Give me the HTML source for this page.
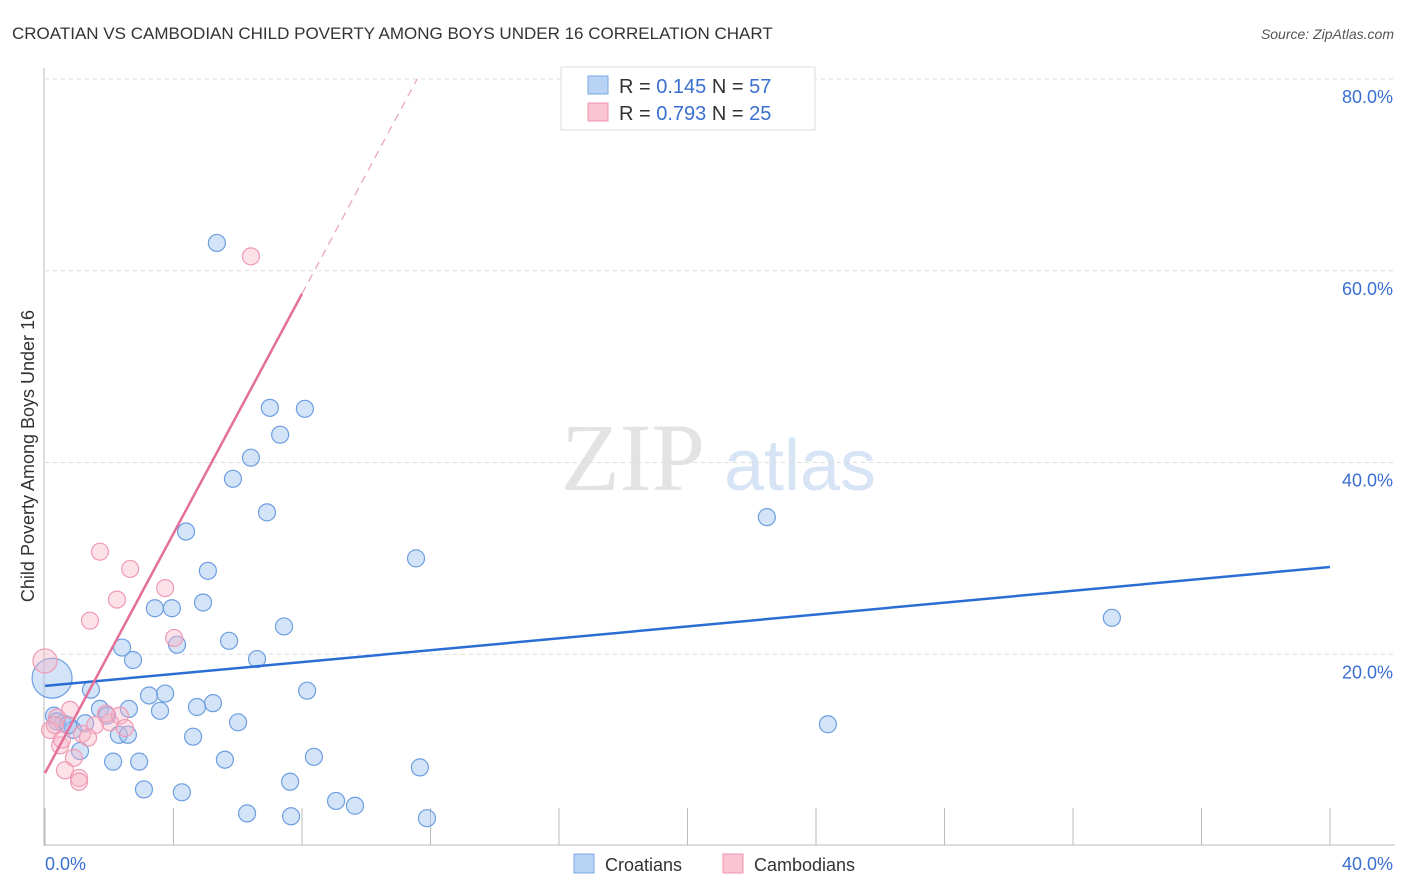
<!DOCTYPE html>
<html><head><meta charset="utf-8"><style>
body{margin:0;background:#fff;font-family:"Liberation Sans",sans-serif;}
svg{display:block}
</style></head><body>
<svg id="chart" width="1406" height="892">
<text x="12" y="39" font-size="17" fill="#333">CROATIAN VS CAMBODIAN CHILD POVERTY AMONG BOYS UNDER 16 CORRELATION CHART</text>
<text x="1394" y="39" font-size="14" fill="#555" font-style="italic" text-anchor="end">Source: ZipAtlas.com</text>
<g>
<text x="633" y="490" font-size="96" fill="#e3e3e3" font-family="Liberation Serif,serif" text-anchor="middle">ZIP</text>
<text x="800" y="490" font-size="72" fill="#d6e4f5" text-anchor="middle">atlas</text>
</g>
<g id="grid"></g>
<g id="axes"></g>
<g id="marks"></g>
<text transform="translate(34,456) rotate(-90)" font-size="18" fill="#333" text-anchor="middle">Child Poverty Among Boys Under 16</text>
<g>
<rect x="561" y="67" width="254" height="63" fill="#fff" stroke="#ddd"/>
<rect x="588" y="76" width="20" height="18" fill="#b8d3f4" stroke="#7aa7e0"/>
<rect x="588" y="103" width="20" height="18" fill="#fac4d3" stroke="#ee93ad"/>
<text x="619" y="93" font-size="20" fill="#333">R = <tspan fill="#3a6fd1">0.145</tspan>   N = <tspan fill="#3a6fd1">57</tspan></text>
<text x="619" y="120" font-size="20" fill="#333">R = <tspan fill="#3a6fd1">0.793</tspan>   N = <tspan fill="#3a6fd1">25</tspan></text>
</g>
<g>
<rect x="574" y="854" width="20" height="19" fill="#b8d3f4" stroke="#7aa7e0"/>
<text x="605" y="871" font-size="18" fill="#333">Croatians</text>
<rect x="723" y="854" width="20" height="19" fill="#fac4d3" stroke="#ee93ad"/>
<text x="754" y="871" font-size="18" fill="#333">Cambodians</text>
</g>
</svg>
<script>
const xTicks=[0,4,8,12,16,20,24,28,32,36,40];
const yGrid=[20,40,60,80];
const yTickLabels=["20.0%","40.0%","60.0%","80.0%"];
const croX=[5.35,7.00,8.09,7.32,6.41,5.85,6.91,4.39,11.55,22.47,33.21,5.07,4.92,3.42,3.95,5.73,7.44,4.11,2.40,2.74,6.60,1.43,3.24,3.74,8.16,5.23,4.73,3.58,1.71,2.61,1.93,6.01,1.25,24.37,2.30,2.58,4.61,1.09,2.12,2.93,5.60,8.37,11.67,7.63,3.08,4.26,9.06,9.65,6.29,7.66,11.89,0.22,0.28,0.56,0.87,0.37,0.72];
const croY=[62.9,45.7,45.6,42.9,40.5,38.3,34.8,32.8,30.0,34.3,23.8,28.7,25.4,24.8,24.8,21.4,22.9,21.0,20.7,19.4,19.5,16.3,15.7,15.9,16.2,14.9,14.5,14.1,14.3,14.3,13.6,12.9,12.8,12.7,11.6,11.6,11.4,9.9,8.8,8.8,9.0,9.3,8.2,6.7,5.9,5.6,4.7,4.2,3.4,3.1,2.9,17.5,13.6,12.8,12.1,13.0,12.6];
const camX=[6.41,1.71,2.65,3.74,2.24,1.40,4.02,0,0.78,0.37,0.16,0.47,1.15,2.02,2.33,2.49,0.90,0.62,1.06,1.06,1.56,0.53,0.31,1.34,1.90];
const camY=[61.5,30.7,28.9,26.9,25.7,23.5,21.7,19.3,14.2,13.4,12.1,10.5,11.7,12.9,13.6,12.3,9.2,7.9,7.1,6.7,12.6,11.1,12.6,11.3,13.8];
const croTrend=[16.7,29.1];
const camTrend=[7.6,6.25];
const NS="http://www.w3.org/2000/svg";
const X=v=>45+v*32.125, Y=v=>846-v*9.5875;
function mk(tag,attrs,parent){const e=document.createElementNS(NS,tag);for(const k in attrs)e.setAttribute(k,attrs[k]);document.getElementById(parent).appendChild(e);return e;}
yGrid.forEach((g,i)=>{
 const l=mk('line',{x1:45,x2:1395,y1:Y(g),y2:Y(g),stroke:'#ddd','stroke-dasharray':'4,4'},'grid');
 
 
 const t=mk('text',{x:1393,y:Y(g)+24,'font-size':18,fill:'#3a6fd1','text-anchor':'end'},'grid');
 t.textContent=yTickLabels[i];
 
 
});
const ax=mk('line',{x1:44,x2:44,y1:68,y2:846,stroke:'#bbb'},'axes');


const bx=mk('line',{x1:44,x2:1395,y1:845,y2:845,stroke:'#bbb'},'axes');


xTicks.forEach(t=>{
 const l=mk('line',{x1:X(t),x2:X(t),y1:808,y2:845,stroke:'#bbb'},'axes');
 
 
});
const xl0=mk('text',{x:45,y:870,'font-size':18,fill:'#3a6fd1'},'axes');xl0.textContent=xTicks[0].toFixed(1)+'%';


const xl1=mk('text',{x:1393,y:870,'font-size':18,fill:'#3a6fd1','text-anchor':'end'},'axes');xl1.textContent=xTicks[xTicks.length-1].toFixed(1)+'%';


croX.forEach((x,i)=>{
 const c=mk('circle',{cx:X(x),cy:Y(croY[i]),r:i==51?20:8.5,fill:'rgba(160,195,240,0.45)',stroke:'#6d9ee0','stroke-width':1.2},'marks');
 
 
});
camX.forEach((x,i)=>{
 const c=mk('circle',{cx:X(x),cy:Y(camY[i]),r:i==7?12:8.5,fill:'rgba(248,180,200,0.4)',stroke:'#ef9ab3','stroke-width':1.2},'marks');
 
 
});
const bl=mk('line',{x1:X(0),y1:Y(croTrend[0]),x2:X(40),y2:Y(croTrend[1]),stroke:'#2a6ed4','stroke-width':2.5},'marks');


const xEnd=(80-camTrend[0])/camTrend[1];
const ps=mk('line',{x1:X(0),y1:Y(camTrend[0]),x2:X(8),y2:Y(camTrend[0]+camTrend[1]*8),stroke:'#e4709a','stroke-width':2.5},'marks');


const pd=mk('line',{x1:X(8),y1:Y(camTrend[0]+camTrend[1]*8),x2:X(xEnd),y2:Y(80),stroke:'#eaa0ba','stroke-width':1.2,'stroke-dasharray':'8,6'},'marks');


</script>
</body></html>
